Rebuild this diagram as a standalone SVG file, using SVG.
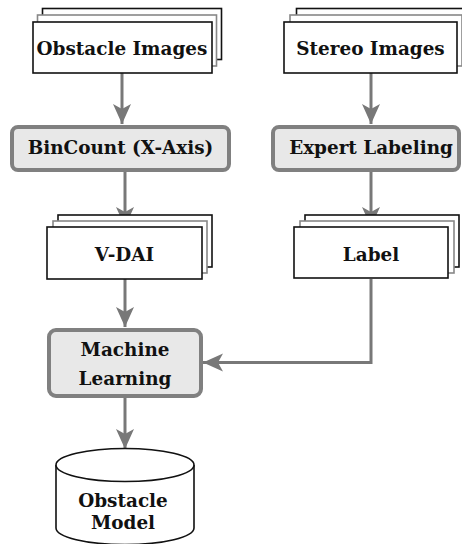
<svg xmlns="http://www.w3.org/2000/svg" width="462" height="544" viewBox="0 0 462 544">
<style>
  .t { font-family: "DejaVu Serif", "Liberation Serif", serif; font-weight: bold; font-size: 18.4px; fill: #111; text-anchor: middle; }
  .doc { fill: #fff; stroke: #111; stroke-width: 1.6; }
  .doc2 { fill: #fff; stroke: #888; stroke-width: 1.6; }
  .proc { fill: #e8e8e8; stroke: #808080; stroke-width: 4; }
  .conn { fill: none; stroke: #787878; stroke-width: 3; }
  .db { fill: #fff; stroke: #111; stroke-width: 1.6; }
</style>
<defs>
  <marker id="ah" markerUnits="userSpaceOnUse" markerWidth="22" markerHeight="20" refX="20" refY="9" orient="auto">
    <path d="M0,0 L20,9 L0,18 L5,9 Z" fill="#787878"/>
  </marker>
</defs>

<g id="connectors">
  <path class="conn" d="M122,73 L122,124" marker-end="url(#ah)"/>
  <path class="conn" d="M371,73 L371,124" marker-end="url(#ah)"/>
  <path class="conn" d="M125,172 L125,227" marker-end="url(#ah)"/>
  <path class="conn" d="M371,170 L371,227" marker-end="url(#ah)"/>
  <path class="conn" d="M125,279 L125,327" marker-end="url(#ah)"/>
  <path class="conn" d="M371,279 L371,362.5 L203,362.5" marker-end="url(#ah)"/>
  <path class="conn" d="M125,398 L125,449" marker-end="url(#ah)"/>
</g>

<g id="obstacle-images">
  <rect class="doc" x="42.5" y="8.5" width="179" height="51"/>
  <rect class="doc2" x="37.5" y="15" width="179" height="51"/>
  <rect class="doc" x="33" y="22" width="179" height="51"/>
  <text class="t" x="122" y="55">Obstacle Images</text>
</g>

<g id="stereo-images">
  <rect class="doc" x="296.5" y="8.5" width="179" height="51"/>
  <rect class="doc2" x="290" y="15" width="172" height="51"/>
  <rect class="doc" x="284" y="22" width="173" height="51"/>
  <text class="t" x="370.5" y="55">Stereo Images</text>
</g>

<g id="bincount">
  <rect class="proc" x="12" y="127" width="217" height="43" rx="6"/>
  <text class="t" x="120.5" y="154">BinCount (X-Axis)</text>
</g>

<g id="expert-labeling">
  <rect class="proc" x="273" y="127" width="186" height="43" rx="6"/>
  <text class="t" x="371" y="154">Expert Labeling</text>
</g>

<g id="v-dai">
  <rect class="doc" x="58" y="215" width="154" height="52"/>
  <rect class="doc2" x="53" y="221" width="154" height="52"/>
  <rect class="doc" x="47" y="227" width="155" height="52"/>
  <text class="t" x="124.5" y="261">V-DAI</text>
</g>

<g id="label">
  <rect class="doc" x="305" y="215" width="154" height="52"/>
  <rect class="doc2" x="300" y="221" width="154" height="52"/>
  <rect class="doc" x="294" y="227" width="154" height="51"/>
  <text class="t" x="371" y="261">Label</text>
</g>

<g id="machine-learning">
  <rect class="proc" x="49" y="330" width="152" height="66" rx="7"/>
  <text class="t" x="125" y="356">Machine</text>
  <text class="t" x="125" y="385">Learning</text>
</g>

<g id="obstacle-model">
  <path class="db" d="M56,465 L56,528 A69,16.5 0 0 0 194,528 L194,465"/>
  <ellipse class="db" cx="125" cy="465" rx="69" ry="16.5"/>
  <text class="t" x="123" y="507">Obstacle</text>
  <text class="t" x="123" y="529">Model</text>
</g>
</svg>
